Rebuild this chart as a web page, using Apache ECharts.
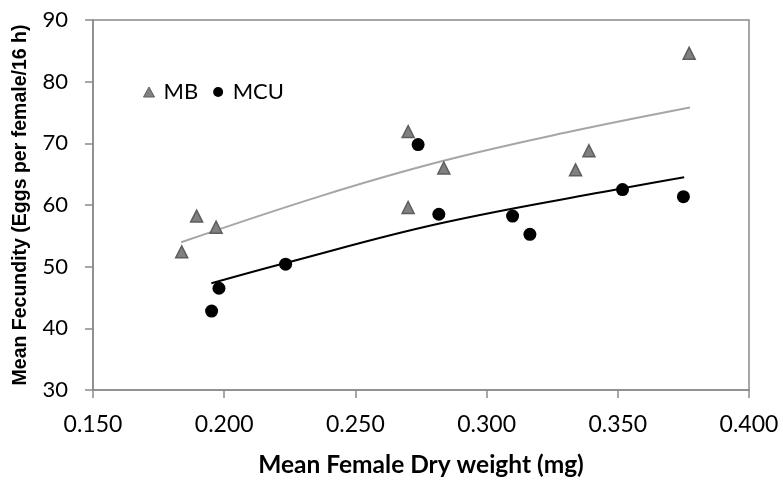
<!DOCTYPE html>
<html>
<head>
<meta charset="utf-8">
<script src="https://cdn.jsdelivr.net/npm/echarts@6/dist/echarts.min.js"></script>
<style>html,body{margin:0;padding:0;background:#fff}#c{width:783px;height:484px}</style>
</head>
<body>
<div id="c"></div>
<script>
// MB (triangles): dry weight (mg), fecundity
var mbX = [0.1838, 0.1895, 0.1969, 0.2701, 0.2701, 0.2837, 0.3339, 0.3390, 0.3772];
var mbY = [52.4, 58.2, 56.4, 71.9, 59.6, 66.0, 65.7, 68.8, 84.6];
// MCU (circles)
var mcuX = [0.1952, 0.1980, 0.2234, 0.2739, 0.2818, 0.3099, 0.3165, 0.3518, 0.3750];
var mcuY = [42.8, 46.5, 50.4, 69.8, 58.5, 58.2, 55.25, 62.5, 61.35];
// trend lines
var mbTrendX = [0.1836, 0.2364, 0.2821, 0.3298, 0.3775];
var mbTrendY = [53.95, 61.4, 67.0, 71.7, 75.8];
var mcuTrendX = [0.1951, 0.2230, 0.2821, 0.3518, 0.3753];
var mcuTrendY = [47.3, 50.55, 57.0, 62.7, 64.5];
var xTicks = [0.150, 0.200, 0.250, 0.300, 0.350, 0.400];
var yTicks = [30, 40, 50, 60, 70, 80, 90];

function zip(a, b) { return a.map(function (v, i) { return [v, b[i]]; }); }

var axisCol = '#8a8a8a';
var font = 'Lato, "Liberation Sans", sans-serif';
var chart = echarts.init(document.getElementById('c'));
chart.setOption({
  animation: false,
  grid: { left: 93, right: 34, top: 20, bottom: 94, show: true, borderColor: axisCol, borderWidth: 1.5 },
  legend: {
    left: 138, top: 76, itemGap: 15, itemWidth: 11, itemHeight: 10,
    textStyle: { fontSize: 22, fontFamily: font, color: '#000', padding: [0, 0, 0, 4] },
    data: [
      { name: 'MB', icon: 'triangle', itemStyle: { color: '#808080', borderColor: '#5e5e5e', borderWidth: 1 } },
      { name: 'MCU', icon: 'circle', itemStyle: { color: '#000' } }
    ]
  },
  xAxis: {
    type: 'value', min: 0.15, max: 0.40, interval: 0.05,
    name: 'Mean Female Dry weight (mg)', nameLocation: 'middle', nameGap: 63,
    nameTextStyle: { fontSize: 24.5, fontWeight: 'bold', fontFamily: font, color: '#000' },
    axisLine: { show: true, lineStyle: { color: axisCol, width: 1.5 } },
    axisTick: { show: true, length: 8, lineStyle: { color: axisCol, width: 1.5 } },
    axisLabel: { fontSize: 23, fontFamily: font, color: '#000', margin: 23,
      formatter: function (v) { return v.toFixed(3); } },
    splitLine: { show: false }
  },
  yAxis: {
    type: 'value', min: 30, max: 90, interval: 10,
    name: 'Mean Fecundity (Eggs per female/16 h)', nameLocation: 'middle', nameGap: 62,
    nameTextStyle: { fontSize: 19.5, fontWeight: 'bold', fontFamily: '"Liberation Sans", Arial, sans-serif', color: '#000' },
    axisLine: { show: true, lineStyle: { color: axisCol, width: 1.5 } },
    axisTick: { show: true, length: 8, lineStyle: { color: axisCol, width: 1.5 } },
    axisLabel: { fontSize: 22, fontFamily: font, color: '#000', margin: 25 },
    splitLine: { show: false }
  },
  series: [
    { name: 'MB trend', type: 'line', data: zip(mbTrendX, mbTrendY), smooth: 0.4, showSymbol: false,
      lineStyle: { color: '#a6a6a6', width: 2 }, silent: true, z: 1 },
    { name: 'MCU trend', type: 'line', data: zip(mcuTrendX, mcuTrendY), smooth: 0.4, showSymbol: false,
      lineStyle: { color: '#000', width: 2 }, silent: true, z: 1 },
    { name: 'MB', type: 'scatter', data: zip(mbX, mbY), symbol: 'triangle', symbolSize: 12,
      itemStyle: { color: '#808080', borderColor: '#5e5e5e', borderWidth: 1.5, opacity: 1 }, z: 3 },
    { name: 'MCU', type: 'scatter', data: zip(mcuX, mcuY), symbol: 'circle', symbolSize: 13,
      itemStyle: { color: '#000', opacity: 1 }, z: 3 }
  ]
});
</script>
</body>
</html>
